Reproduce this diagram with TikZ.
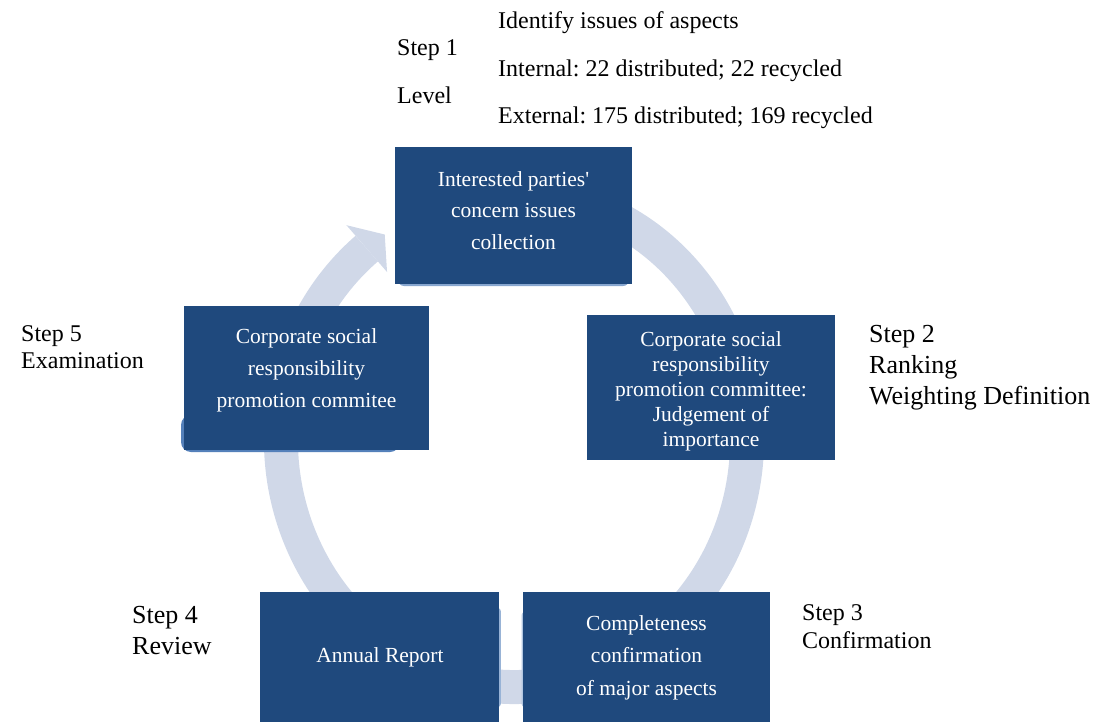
\documentclass[tikz,border=0pt]{standalone}
\usepackage{fontspec}
\setmainfont{Liberation Serif}
\usetikzlibrary{calc}
\definecolor{boxblue}{RGB}{31,73,125}
\definecolor{ringgrey}{RGB}{208,216,232}
\definecolor{edgeblue}{RGB}{84,128,186}
\frenchspacing

\begin{document}
\begin{tikzpicture}[x=1pt,y=-1pt,
  stepbox/.style={fill=boxblue, draw=none, inner sep=0pt, outer sep=0pt, anchor=north west},
  boxtext/.style={text=white, align=center, inner sep=0pt},
  sidetext/.style={anchor=base west, inner sep=0pt, font=\fontsize{24}{28}\selectfont},
  bigside/.style={anchor=base west, inner sep=0pt, font=\fontsize{26}{31}\selectfont}]
\useasboundingbox (0,0) rectangle (1110,722);

% circular arrow behind the five stages
\coordinate (ctr) at (514,440);
\draw[ringgrey, line width=34pt]
  ($(ctr)+({233*cos(-75)},{247*sin(-75)})$)
  arc[start angle=-75, end angle=230.8, x radius=233, y radius=247];
\coordinate (ringend) at ($(ctr)+({233*cos(230.8)},{247*sin(230.8)})$);
\coordinate (ringtip) at ($(ctr)+({233*cos(236.3)},{247*sin(236.3)})$);
\fill[ringgrey] ($(ringend)+(-20.3,-23.4)$) -- (ringtip) -- ($(ringend)+(20.3,23.4)$) -- cycle;

% soft edges peeking out behind the boxes
\fill[edgeblue, rounded corners=10pt] (181,415) rectangle (400,452);
\fill[edgeblue!70!white, rounded corners=6pt] (398,250) rectangle (629,286);
\fill[edgeblue!60!white, rounded corners=3pt] (470,608) rectangle (500.8,707);
\fill[edgeblue!45!white, rounded corners=3pt] (521.6,612) rectangle (550,707);

% stage boxes
\node[stepbox, minimum width=237pt, minimum height=137pt] (collect) at (395,147) {};
\node[stepbox, minimum width=248pt, minimum height=145pt] (judge) at (587,315) {};
\node[stepbox, minimum width=245pt, minimum height=144pt] (exam) at (184,306) {};
\node[stepbox, minimum width=239pt, minimum height=130pt] (report) at (260,592) {};
\node[stepbox, minimum width=247pt, minimum height=130pt] (confirm) at (523,592) {};

% box captions
\node[boxtext, font=\fontsize{21.5}{31.5}\selectfont] (collecttext) at (513.5,210.5)
  {Interested parties\textquotesingle\\concern issues\\collection};
\node[boxtext, font=\fontsize{21.5}{25}\selectfont] (judgetext) at (711,391.5)
  {Corporate social\\responsibility\\promotion committee:\\Judgement of\\importance};
\node[boxtext, font=\fontsize{21.5}{32}\selectfont] (examtext) at (306.5,370)
  {Corporate social\\responsibility\\promotion commitee};
\node[boxtext, font=\fontsize{21.5}{32}\selectfont] (reporttext) at (380,657)
  {Annual Report};
\node[boxtext, font=\fontsize{21.5}{32.5}\selectfont] (confirmtext) at (646.5,657.5)
  {Completeness\\confirmation\\of major aspects};

% step labels
\node[sidetext] (s1a) at (397,56) {Step 1};
\node[sidetext] (s1b) at (397,104) {Level};
\node[sidetext] (s1c) at (498,29) {Identify issues of aspects};
\node[sidetext] (s1d) at (498,77) {Internal: 22 distributed; 22 recycled};
\node[sidetext] (s1e) at (498,124) {External: 175 distributed; 169 recycled};

\node[bigside] (s2a) at (869,342) {Step 2};
\node[bigside] (s2b) at (869,373) {Ranking};
\node[bigside] (s2c) at (869,404) {Weighting Definition};

\node[sidetext] (s3a) at (802,620) {Step 3};
\node[sidetext] (s3b) at (802,648) {Confirmation};

\node[bigside] (s4a) at (132,623.5) {Step 4};
\node[bigside] (s4b) at (132,654.5) {Review};

\node[sidetext] (s5a) at (21,341) {Step 5};
\node[sidetext] (s5b) at (21,368) {Examination};
\end{tikzpicture}
\end{document}
